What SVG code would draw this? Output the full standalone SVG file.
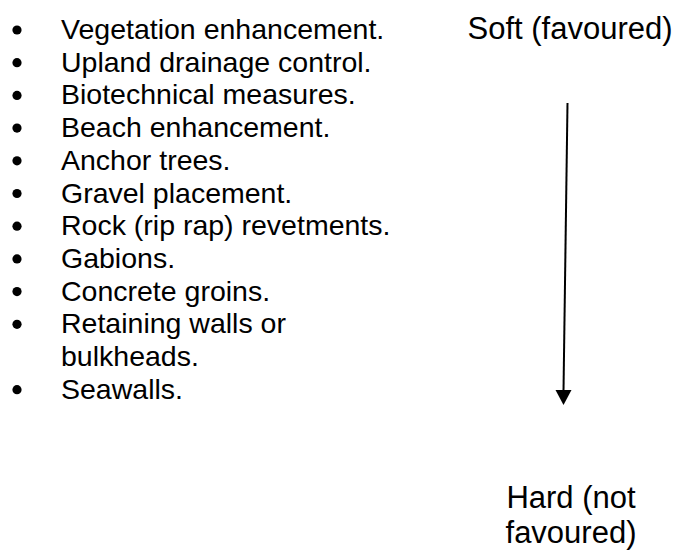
<svg xmlns="http://www.w3.org/2000/svg" width="679" height="554" viewBox="0 0 679 554">
  <style>
    text { font-family: "Liberation Sans", Arial, sans-serif; fill: #000; }
    .item { font-size: 28.5px; }
    .lbl { font-size: 31px; }
    .bul { fill: #000; }
  </style>
  <rect width="679" height="554" fill="#fff"/>
  <g id="list">
    <g id="item1"><circle class="bul" cx="17" cy="30" r="4.6"/><text class="item" x="61" y="39">Vegetation enhancement.</text></g>
    <g id="item2"><circle class="bul" cx="17" cy="62.7" r="4.6"/><text class="item" x="61" y="71.7">Upland drainage control.</text></g>
    <g id="item3"><circle class="bul" cx="17" cy="95.4" r="4.6"/><text class="item" x="61" y="104.4">Biotechnical measures.</text></g>
    <g id="item4"><circle class="bul" cx="17" cy="128.1" r="4.6"/><text class="item" x="61" y="137.1">Beach enhancement.</text></g>
    <g id="item5"><circle class="bul" cx="17" cy="160.8" r="4.6"/><text class="item" x="61" y="169.8">Anchor trees.</text></g>
    <g id="item6"><circle class="bul" cx="17" cy="193.5" r="4.6"/><text class="item" x="61" y="202.5">Gravel placement.</text></g>
    <g id="item7"><circle class="bul" cx="17" cy="226.2" r="4.6"/><text class="item" x="61" y="235.2">Rock (rip rap) revetments.</text></g>
    <g id="item8"><circle class="bul" cx="17" cy="258.9" r="4.6"/><text class="item" x="61" y="267.9">Gabions.</text></g>
    <g id="item9"><circle class="bul" cx="17" cy="291.6" r="4.6"/><text class="item" x="61" y="300.6">Concrete groins.</text></g>
    <g id="item10"><circle class="bul" cx="17" cy="324.3" r="4.6"/><text class="item" x="61" y="333.3">Retaining walls or</text><text class="item" x="61" y="366">bulkheads.</text></g>
    <g id="item11"><circle class="bul" cx="17" cy="389.7" r="4.6"/><text class="item" x="61" y="398.7">Seawalls.</text></g>
  </g>
  <g id="soft"><text class="lbl" x="570" y="39" text-anchor="middle">Soft (favoured)</text></g>
  <g id="hard"><text class="lbl" x="571" y="508" text-anchor="middle">Hard (not</text><text class="lbl" x="571" y="543" text-anchor="middle">favoured)</text></g>
  <g id="connectors">
    <line x1="567.5" y1="103" x2="563.5" y2="391" stroke="#000" stroke-width="2"/>
    <path d="M555.5,390 L571.5,390 L563.5,405 Z" fill="#000"/>
  </g>
</svg>
